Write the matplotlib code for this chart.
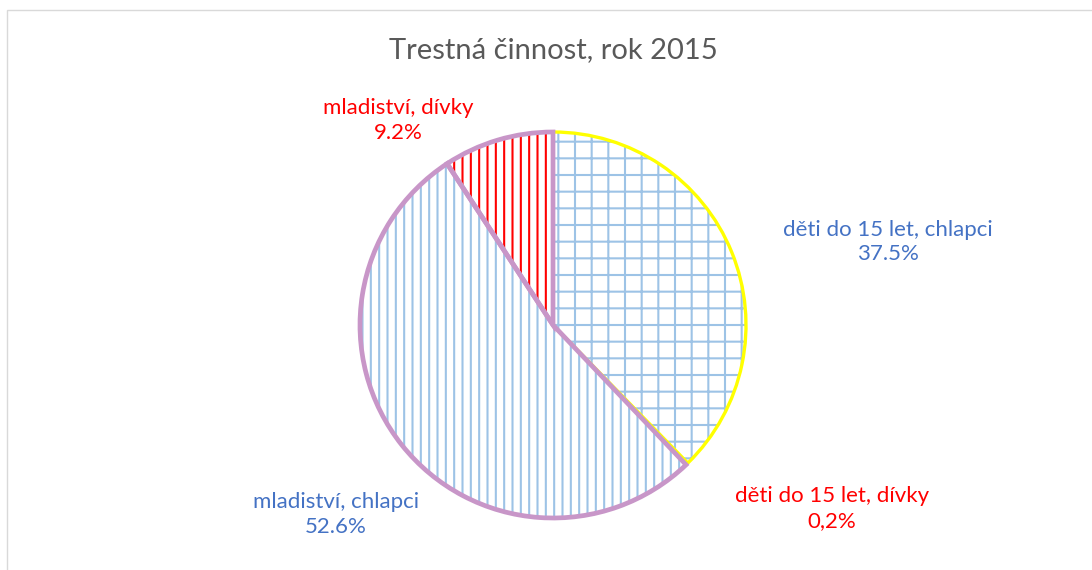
import matplotlib
matplotlib.use('Agg')
import matplotlib.pyplot as plt
from matplotlib.patches import Rectangle

plt.rcParams['font.family'] = ['Lato', 'DejaVu Sans']
plt.rcParams['hatch.linewidth'] = 1.5

# data
categories = ['děti do 15 let, chlapci', 'děti do 15 let, dívky',
              'mladiství, chlapci', 'mladiství, dívky']
values = [37.5, 0.2, 52.6, 9.2]
pct_labels = ['37.5%', '0,2%', '52.6%', '9.2%']

hatch_colors = ['#9DC3E6', '#FF0000', '#9DC3E6', '#FF0000']
hatches = ['+', '+', '||', '||']
edge_colors = ['#FFFF00', 'none', '#C896C8', '#C896C8']
edge_widths = [2.4, 0, 3.4, 3.4]
text_colors = ['#4472C4', '#FF0000', '#4472C4', '#FF0000']
# label centres in pie-radius units
label_pos = [(1.736, 0.43), (1.446, -0.95), (-1.124, -0.98), (-0.80, 1.06)]

W, H = 1092, 570
fig = plt.figure(figsize=(W / 100, H / 100), dpi=100)

# chart frame
fig.patches.append(Rectangle((6.5 / W, -0.1), 1.2, (H - 10.5) / H + 0.1,
                             transform=fig.transFigure, fill=False,
                             edgecolor='#D9D9D9', linewidth=1))

cx, cy, r = 553, 325, 193
ax = fig.add_axes([(cx - r) / W, (H - cy - r) / H, 2 * r / W, 2 * r / H])

wedges, _ = ax.pie(values, startangle=90, counterclock=False, radius=1,
                   wedgeprops=dict(linewidth=0))
for w, hc, h in zip(wedges, hatch_colors, hatches):
    w.set_facecolor('white')
    w.set_edgecolor(hc)
    w.set_hatch(h)
    w.set_clip_on(False)

outlines, _ = ax.pie(values, startangle=90, counterclock=False, radius=1,
                     wedgeprops=dict(facecolor='none'))
for w, ec, lw in zip(outlines, edge_colors, edge_widths):
    w.set_edgecolor(ec)
    w.set_linewidth(lw)
    w.set_clip_on(False)

ax.set_xlim(-1, 1)
ax.set_ylim(-1, 1)
ax.set_aspect('equal')
ax.axis('off')

for cat, pct, col, (x, y) in zip(categories, pct_labels, text_colors, label_pos):
    ax.text(x, y, cat + '\n' + pct, color=col, fontsize=16, ha='center',
            va='center', linespacing=1.3)

fig.text(cx / W, 1 - 50 / H, 'Trestná činnost, rok 2015', color='#595959',
         fontsize=21, ha='center', va='center')

fig.savefig('out.png', dpi=100)
